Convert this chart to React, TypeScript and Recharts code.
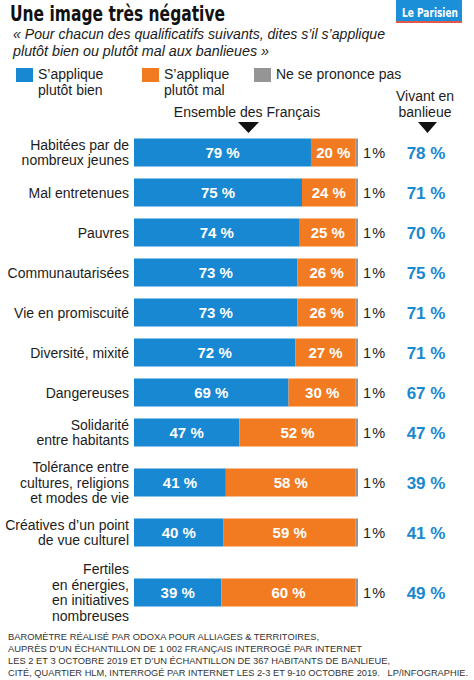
import React from 'react';
import { BarChart, Bar, XAxis, YAxis, LabelList } from 'recharts';

// Ensemble des Français, one row per qualificatif
const categories = [
  'Habitées par de\nnombreux jeunes',
  'Mal entretenues',
  'Pauvres',
  'Communautarisées',
  'Vie en promiscuité',
  'Diversité, mixité',
  'Dangereuses',
  'Solidarité\nentre habitants',
  'Tolérance entre\ncultures, religions\net modes de vie',
  'Créatives d’un point\nde vue culturel',
  'Fertiles\nen énergies,\nen initiatives\nnombreuses',
];
const bien = [79, 75, 74, 73, 73, 72, 69, 47, 41, 40, 39];
const mal = [20, 24, 25, 26, 26, 27, 30, 52, 58, 59, 60];
const nsp = [1, 1, 1, 1, 1, 1, 1, 1, 1, 1, 1];
// Vivant en banlieue : s'applique plutôt bien
const banlieue = [78, 71, 70, 75, 71, 71, 67, 47, 39, 41, 49];

const legendItems = [
  { label: 'S’applique\nplutôt bien', key: 'bien' },
  { label: 'S’applique\nplutôt mal', key: 'mal' },
  { label: 'Ne se prononce pas', key: 'nsp' },
];

const footerLines = [
  'BAROMÈTRE RÉALISÉ PAR ODOXA POUR ALLIAGES & TERRITOIRES,',
  'AUPRÈS D’UN ÉCHANTILLON DE 1 002 FRANÇAIS INTERROGÉ PAR INTERNET',
  'LES 2 ET 3 OCTOBRE 2019 ET D’UN ÉCHANTILLON DE 367 HABITANTS DE BANLIEUE,',
  'CITÉ, QUARTIER HLM, INTERROGÉ PAR INTERNET LES 2-3 ET 9-10 OCTOBRE 2019.\u00a0\u00a0 LP/INFOGRAPHIE.',
];

const BLUE = '#1888d2';
const ORANGE = '#f27b22';
const GREY = '#959595';
const INK = '#1c1c1c';
const FONT = '"Liberation Sans", Arial, sans-serif';
const NARROW = '"Liberation Sans Narrow", "DejaVu Sans Condensed", Roboto, sans-serif';
const COLORS: Record<string, string> = { bien: BLUE, mal: ORANGE, nsp: GREY };

// rows with long labels need more room: step between rows follows the line counts
const lineCount = categories.map((c) => c.split('\n').length);
const rowPos: number[] = [];
lineCount.forEach((n, i) => {
  rowPos.push(i === 0 ? 0 : rowPos[i - 1] + Math.max(2, (lineCount[i - 1] + n) / 2));
});

const data = categories.map((name, i) => ({
  name,
  pos: rowPos[i],
  bien: bien[i],
  mal: mal[i],
  nsp: nsp[i],
  banlieue: banlieue[i],
}));

const InsideValue = (props: any) => {
  const { x, y, width, height, value } = props;
  return (
    <text x={x + width / 2} y={y + height / 2} dy="0.36em" textAnchor="middle" fill="#fff"
      fontFamily={FONT} fontSize={15} fontWeight={700}>
      {`${value} %`}
    </text>
  );
};

const CategoryLabel = (props: any) => {
  const { x, y, height, value } = props;
  const lines = String(value).split('\n');
  const lh = 15.7;
  const top = y + height / 2 - ((lines.length - 1) * lh) / 2;
  return (
    <text textAnchor="end" fill={INK} fontFamily={FONT} fontSize={14}>
      {lines.map((l, i) => (
        <tspan key={i} x={x - 5} y={top + i * lh} dy="0.36em">{l}</tspan>
      ))}
    </text>
  );
};

const NspValue = (props: any) => {
  const { x, y, width, height, value } = props;
  return (
    <text x={x + width + 5} y={y + height / 2} dy="0.36em" fill={INK} fontFamily={FONT} fontSize={14.5}>
      {`${value}\u200a%`}
    </text>
  );
};

const BanlieueValue = (props: any) => {
  const { x, y, width, height, value } = props;
  return (
    <text x={x + width + 68} y={y + height / 2} dy="0.36em" textAnchor="middle" fill={BLUE}
      fontFamily={FONT} fontSize={17} fontWeight={700}>
      {`${value} %`}
    </text>
  );
};

const Overlay = () => (
  <svg width={474} height={680} style={{ position: 'absolute', left: 0, top: 0, pointerEvents: 'none' }}>
    <text x={10} y={21} fontFamily={NARROW} fontWeight={700} fontSize={22} fill="#111"
      textLength={215} lengthAdjust="spacingAndGlyphs">
      Une image très négative
    </text>
    <rect x={396} y={0} width={66} height={21} fill="#1b8fd8" />
    <rect x={396} y={21} width={66} height={2} fill="#e2574c" />
    <text x={402} y={17} fontFamily={NARROW} fontWeight={700} fontSize={13} fill="#fff"
      textLength={56} lengthAdjust="spacingAndGlyphs">
      Le Parisien
    </text>
    <text x={13} y={39} fontFamily={FONT} fontStyle="italic" fontSize={14.5} fill={INK}
      textLength={372} lengthAdjust="spacingAndGlyphs">
      « Pour chacun des qualificatifs suivants, dites s’il s’applique
    </text>
    <text x={13} y={56} fontFamily={FONT} fontStyle="italic" fontSize={14.5} fill={INK}
      textLength={256} lengthAdjust="spacingAndGlyphs">
      plutôt bien ou plutôt mal aux banlieues »
    </text>
    {legendItems.map((item, i) => {
      const lx = [16, 142, 254][i];
      return (
        <g key={item.key}>
          <rect x={lx} y={68} width={17} height={14} fill={COLORS[item.key]} />
          {item.label.split('\n').map((l, j) => (
            <text key={j} x={lx + 22} y={78.5 + j * 16} fontFamily={FONT} fontSize={14} fill={INK}>{l}</text>
          ))}
        </g>
      );
    })}
    <text x={247} y={117} textAnchor="middle" fontFamily={FONT} fontSize={14} fill={INK}>Ensemble des Français</text>
    <text x={425} y={101} textAnchor="middle" fontFamily={FONT} fontSize={14} fill={INK}>Vivant en</text>
    <text x={425} y={117} textAnchor="middle" fontFamily={FONT} fontSize={14} fill={INK}>banlieue</text>
    <polygon points="238,122 259,122 248.5,133" fill="#111" />
    <polygon points="418,122 437,122 427.5,133" fill="#111" />
    {footerLines.map((l, i) => (
      <text key={i} x={8} y={640 + i * 12} fontFamily={FONT} fontSize={9.4} fill="#333"
        textLength={[311, 354, 382, 460][i]} lengthAdjust="spacingAndGlyphs">
        {l}
      </text>
    ))}
  </svg>
);

const App: React.FC = () => {
  return (
    <div style={{ position: 'absolute', left: 0, top: 0, width: 474, height: 680, background: '#fff' }}>
      <div style={{ position: 'absolute', left: 0, top: 0 }}>
        <BarChart layout="vertical" width={474} height={680} data={data}
          margin={{ top: 132.5, right: 116, bottom: 67.5, left: 134 }}>
          <XAxis type="number" domain={[0, 100]} hide />
          <YAxis type="number" dataKey="pos" domain={[-1, 23]} hide />
          <Bar dataKey="bien" stackId="a" fill={BLUE} barSize={28} isAnimationActive={false}>
            <LabelList dataKey="bien" content={InsideValue} />
            <LabelList dataKey="name" content={CategoryLabel} />
          </Bar>
          <Bar dataKey="mal" stackId="a" fill={ORANGE} barSize={28} isAnimationActive={false}>
            <LabelList dataKey="mal" content={InsideValue} />
          </Bar>
          <Bar dataKey="nsp" stackId="a" fill={GREY} barSize={28} isAnimationActive={false}>
            <LabelList dataKey="nsp" content={NspValue} />
            <LabelList dataKey="banlieue" content={BanlieueValue} />
          </Bar>
        </BarChart>
      </div>
      <Overlay />
    </div>
  );
};

export default App;
